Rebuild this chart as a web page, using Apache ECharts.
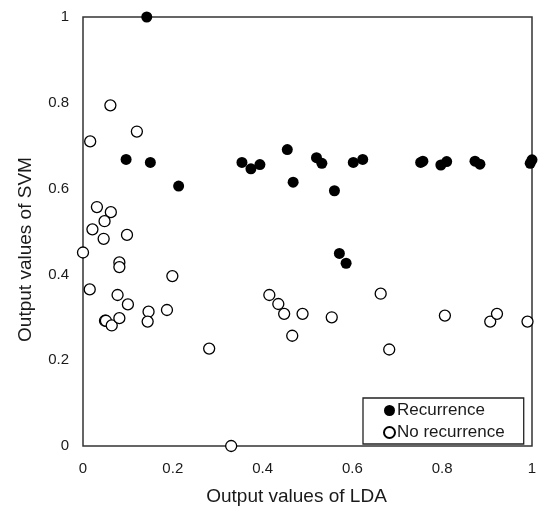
<!DOCTYPE html>
<html>
<head>
<meta charset="utf-8">
<script src="https://cdn.jsdelivr.net/npm/echarts@6/dist/echarts.min.js"></script>
<style>
  html, body { margin: 0; padding: 0; background: #fff; }
  #scatterChart { width: 540px; height: 511px; }
</style>
</head>
<body>
<div id="scatterChart"></div>
<script>
// output values: [LDA, SVM]
const recurrence = [
  [0.142, 1.0], [0.096, 0.668], [0.150, 0.661], [0.213, 0.606],
  [0.354, 0.661], [0.374, 0.646], [0.394, 0.656], [0.455, 0.691],
  [0.468, 0.615], [0.520, 0.672], [0.532, 0.659], [0.560, 0.595],
  [0.602, 0.661], [0.623, 0.668], [0.752, 0.661], [0.757, 0.664],
  [0.797, 0.655], [0.810, 0.663], [0.873, 0.664], [0.884, 0.657],
  [0.996, 0.659], [1.0, 0.667], [0.571, 0.449], [0.586, 0.426]
]
const noRecurrence = [
  [0.061, 0.794], [0.120, 0.733], [0.016, 0.710], [0.031, 0.557],
  [0.062, 0.545], [0.048, 0.524], [0.021, 0.505], [0.098, 0.492],
  [0.046, 0.483], [0.0, 0.451], [0.081, 0.428], [0.081, 0.417],
  [0.015, 0.365], [0.199, 0.396], [0.077, 0.352], [0.100, 0.330],
  [0.146, 0.313], [0.187, 0.317], [0.049, 0.292], [0.051, 0.292],
  [0.064, 0.281], [0.081, 0.298], [0.144, 0.290], [0.281, 0.227],
  [0.330, 0.0], [0.415, 0.352], [0.435, 0.331], [0.448, 0.308],
  [0.489, 0.308], [0.466, 0.257], [0.663, 0.355], [0.554, 0.300],
  [0.682, 0.225], [0.806, 0.304], [0.907, 0.290], [0.922, 0.308],
  [0.990, 0.290]
]
const seriesNames = ['Recurrence', 'No recurrence']
const axisTicks = [0, 0.2, 0.4, 0.6, 0.8, 1]

const font = '"Liberation Sans", Arial, sans-serif'
const textColor = '#1a1a1a'

const valueAxis = (name) => ({
  type: 'value',
  min: axisTicks[0],
  max: axisTicks[axisTicks.length - 1],
  interval: axisTicks[1] - axisTicks[0],
  name: name,
  nameLocation: 'middle',
  nameTextStyle: { fontFamily: font, fontSize: 19, color: textColor },
  axisLine: { show: false },
  axisTick: { show: false },
  splitLine: { show: false },
  axisLabel: { fontFamily: font, fontSize: 15, color: textColor }
})

const xAxis = valueAxis('Output values of LDA')
xAxis.nameGap = 41
xAxis.nameTextStyle.padding = [0, 22, 0, 0]
xAxis.axisLabel.margin = 15

const yAxis = valueAxis('Output values of SVM')
yAxis.nameGap = 48
yAxis.nameTextStyle.padding = [0, 36, 0, 0]
yAxis.axisLabel.margin = 14

const option = {
  animation: false,
  grid: {
    left: 83,
    right: 8,
    top: 17,
    bottom: 60,
    show: true,
    borderColor: '#333',
    borderWidth: 1.5
  },
  legend: {
    data: seriesNames,
    orient: 'vertical',
    left: 363,
    top: 398,
    padding: [4, 19, 3, 20],
    itemGap: 5,
    itemWidth: 11,
    itemHeight: 11,
    borderColor: '#222',
    borderWidth: 1.3,
    backgroundColor: '#fff',
    textStyle: { fontFamily: font, fontSize: 17, color: textColor, padding: [0, 0, 0, -3] }
  },
  xAxis: xAxis,
  yAxis: yAxis,
  series: [
    {
      name: seriesNames[0],
      type: 'scatter',
      symbol: 'circle',
      symbolSize: 11,
      clip: false,
      itemStyle: { color: '#000', opacity: 1 },
      data: recurrence
    },
    {
      name: seriesNames[1],
      type: 'scatter',
      symbol: 'circle',
      symbolSize: 11,
      clip: false,
      itemStyle: { color: '#fff', borderColor: '#000', borderWidth: 1.3, opacity: 1 },
      data: noRecurrence
    }
  ]
}

const myChart = echarts.init(document.getElementById('scatterChart'))
myChart.setOption(option)
</script>
</body>
</html>
